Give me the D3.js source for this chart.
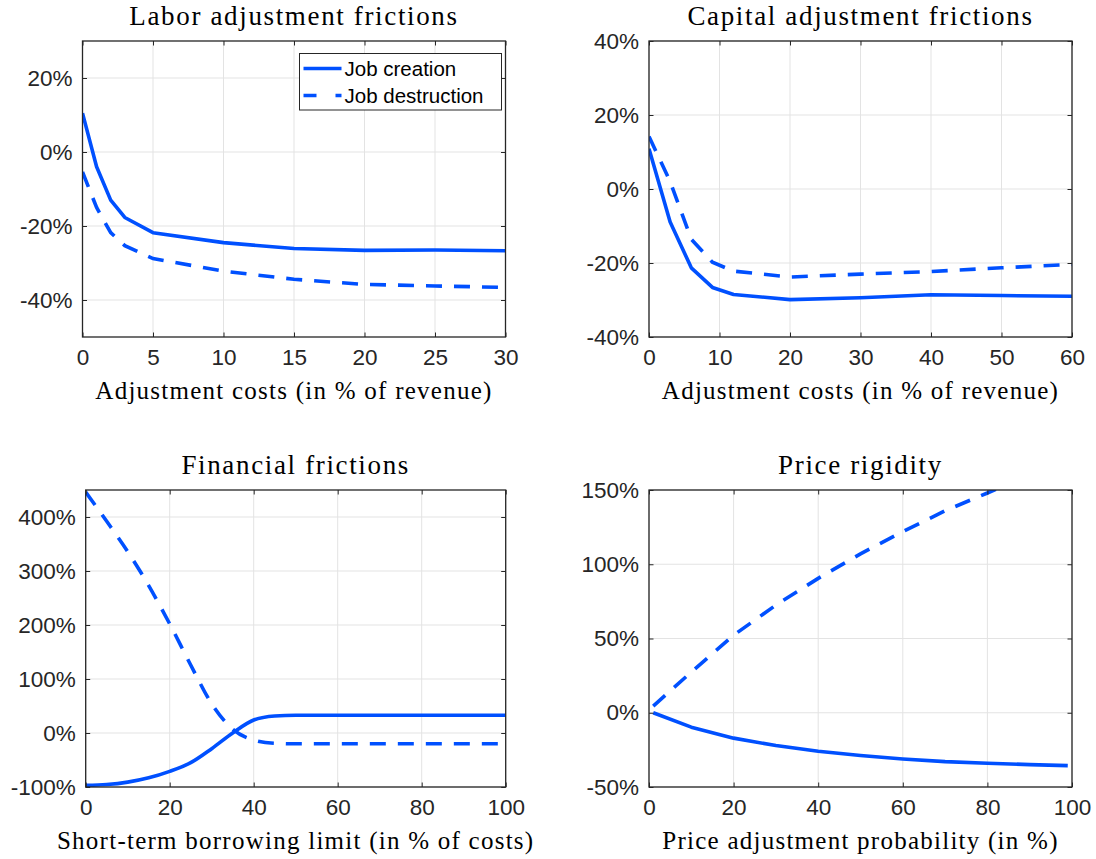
<!DOCTYPE html>
<html>
<head>
<meta charset="utf-8">
<script src="https://cdn.jsdelivr.net/npm/d3@7"></script>
<style>
  html, body { margin: 0; padding: 0; background: #ffffff; }
  svg { display: block; }
</style>
</head>
<body>
<svg id="chart" width="1096" height="859"></svg>
<script>
// ---------------- DATA ----------------
const seriesNames = ["Job creation", "Job destruction"];

// Panel 1: Labor adjustment frictions
const laborX = [0, 1, 2, 3, 5, 10, 15, 20, 25, 30];
const laborCreation = [10.5, -4.0, -13.0, -17.7, -21.8, -24.5, -26.1, -26.6, -26.5, -26.7];
const laborDestruction = [-5.4, -15.0, -21.8, -25.3, -28.8, -32.2, -34.4, -35.8, -36.2, -36.6];
const laborXTicks = [0, 5, 10, 15, 20, 25, 30];
const laborYTicks = [-40, -20, 0, 20];

// Panel 2: Capital adjustment frictions
const capitalX = [0, 3, 6, 9, 12, 20, 30, 40, 50, 60];
const capitalCreation = [10.9, -8.9, -21.3, -26.6, -28.5, -29.9, -29.4, -28.6, -28.8, -29.0];
const capitalDestruction = [14.2, 2.0, -13.6, -19.8, -22.2, -23.8, -23.0, -22.3, -21.3, -20.4];
const capitalXTicks = [0, 10, 20, 30, 40, 50, 60];
const capitalYTicks = [-40, -20, 0, 20, 40];

// Panel 3: Financial frictions
const financialX = [0, 5, 10, 15, 20, 25, 30, 35, 40, 45, 50, 55, 60, 65, 70, 75, 80, 85, 90, 95, 100];
const financialCreation = [-97, -95.5, -91, -83, -71, -55, -29, 0, 24, 31.5, 33, 33, 33, 33, 33, 33, 33, 33, 33, 33, 33];
const financialDestruction = [446, 392, 336, 273, 202, 126, 54, 7, -13, -19, -20, -20, -20, -20, -20, -20, -20, -20, -20, -20, -20];
const financialXTicks = [0, 20, 40, 60, 80, 100];
const financialYTicks = [-100, 0, 100, 200, 300, 400];

// Panel 4: Price rigidity
const priceX = [1, 10, 20, 30, 40, 50, 60, 70, 80, 90, 99];
const priceCreation = [0, -9.7, -17.1, -22.1, -25.9, -28.8, -31.1, -32.9, -34.0, -34.9, -35.6];
const priceDestruction = [4.5, 27.4, 52.2, 72.5, 90.5, 107, 122, 136, 148, 160, 170];
const priceXTicks = [0, 20, 40, 60, 80, 100];
const priceYTicks = [-50, 0, 50, 100, 150];

// ---------------- PANELS ----------------
const panels = [
  { title: "Labor adjustment frictions", xlabel: "Adjustment costs (in % of revenue)",
    x: laborX, s1: laborCreation, s2: laborDestruction, xdom: [0, 30], ydom: [-50, 30],
    xt: laborXTicks, yt: laborYTicks, box: [82.5, 41, 505.5, 337], legend: true, smooth: false },
  { title: "Capital adjustment frictions", xlabel: "Adjustment costs (in % of revenue)",
    x: capitalX, s1: capitalCreation, s2: capitalDestruction, xdom: [0, 60], ydom: [-40, 40],
    xt: capitalXTicks, yt: capitalYTicks, box: [649, 41, 1072, 337], legend: false, smooth: false },
  { title: "Financial frictions", xlabel: "Short-term borrowing limit (in % of costs)",
    x: financialX, s1: financialCreation, s2: financialDestruction, xdom: [0, 100], ydom: [-100, 450],
    xt: financialXTicks, yt: financialYTicks, box: [85.7, 490, 505.7, 787], legend: false, smooth: true },
  { title: "Price rigidity", xlabel: "Price adjustment probability (in %)",
    x: priceX, s1: priceCreation, s2: priceDestruction, xdom: [0, 100], ydom: [-50, 150],
    xt: priceXTicks, yt: priceYTicks, box: [649, 490, 1072, 787], legend: false, smooth: false }
];

const svg = d3.select("#chart");
const BLUE = "#0050ff";
const AXC = "#262626";
const GRID = "#e3e3e3";
const SANS = "'Liberation Sans', Arial, Helvetica, sans-serif";
const SERIF = "'Liberation Serif', 'Times New Roman', serif";
const DASH = "16,12";
const LW = 3.6;

panels.forEach((p, i) => {
  const [x0, y0, x1, y1] = p.box;
  const xs = d3.scaleLinear().domain(p.xdom).range([x0, x1]);
  const ys = d3.scaleLinear().domain(p.ydom).range([y1, y0]);
  const g = svg.append("g");

  // grid
  g.selectAll(".gx").data(p.xt).enter().append("line")
    .attr("x1", d => xs(d)).attr("x2", d => xs(d)).attr("y1", y0).attr("y2", y1)
    .attr("stroke", GRID).attr("stroke-width", 1);
  g.selectAll(".gy").data(p.yt).enter().append("line")
    .attr("y1", d => ys(d)).attr("y2", d => ys(d)).attr("x1", x0).attr("x2", x1)
    .attr("stroke", GRID).attr("stroke-width", 1);

  // clip
  const cid = "clip" + i;
  svg.append("clipPath").attr("id", cid).append("rect")
    .attr("x", x0).attr("y", y0).attr("width", x1 - x0).attr("height", y1 - y0);

  const line = d3.line()
    .x((d, k) => xs(p.x[k])).y(d => ys(d))
    .curve(p.smooth ? d3.curveMonotoneX : d3.curveLinear);

  const lg = g.append("g").attr("clip-path", `url(#${cid})`);
  lg.append("path").datum(p.s1).attr("d", line)
    .attr("fill", "none").attr("stroke", BLUE).attr("stroke-width", LW)
    .attr("stroke-linejoin", "round");
  lg.append("path").datum(p.s2).attr("d", line)
    .attr("fill", "none").attr("stroke", BLUE).attr("stroke-width", LW)
    .attr("stroke-dasharray", DASH);

  // axes (inward ticks on all 4 sides)
  const tl = 4.5;
  const axB = d3.axisBottom(xs).tickValues(p.xt).tickSize(-tl).tickPadding(10).tickFormat(d3.format("d"));
  const axT = d3.axisTop(xs).tickValues(p.xt).tickSize(-tl).tickFormat("");
  const axL = d3.axisLeft(ys).tickValues(p.yt).tickSize(-tl).tickPadding(10).tickFormat(d => d + "%");
  const axR = d3.axisRight(ys).tickValues(p.yt).tickSize(-tl).tickFormat("");

  const styleAxis = sel => {
    sel.select(".domain").remove();
    sel.selectAll(".tick line").attr("stroke", AXC).attr("stroke-width", 1);
    sel.selectAll(".tick text").attr("fill", AXC).style("font-family", SANS).style("font-size", "22.5px");
  };
  g.append("g").attr("transform", `translate(0,${y1})`).call(axB).call(styleAxis)
    .selectAll(".tick text").attr("dy", "0.78em");
  g.append("g").attr("transform", `translate(0,${y0})`).call(axT).call(styleAxis);
  g.append("g").attr("transform", `translate(${x0},0)`).call(axL).call(styleAxis);
  g.append("g").attr("transform", `translate(${x1},0)`).call(axR).call(styleAxis);

  // box
  g.append("rect").attr("x", x0).attr("y", y0).attr("width", x1 - x0).attr("height", y1 - y0)
    .attr("fill", "none").attr("stroke", AXC).attr("stroke-width", 1.3);

  // title
  g.append("text").attr("x", (x0 + x1) / 2).attr("y", y0 - 16)
    .attr("text-anchor", "middle").style("font-family", SERIF).style("font-size", "27px")
    .style("letter-spacing", "1.65px").attr("fill", "#000").text(p.title);

  // x label
  g.append("text").attr("x", (x0 + x1) / 2).attr("y", y1 + 62)
    .attr("text-anchor", "middle").style("font-family", SERIF).style("font-size", "25px")
    .style("letter-spacing", "1.25px").attr("fill", "#000").text(p.xlabel);

  // legend
  if (p.legend) {
    const lx = 299.5, ly = 53.5, lw = 202, lh = 56.5;
    const leg = g.append("g");
    leg.append("rect").attr("x", lx).attr("y", ly).attr("width", lw).attr("height", lh)
      .attr("fill", "#fff").attr("stroke", AXC).attr("stroke-width", 1);
    const rows = [{ name: seriesNames[0], dash: null, y: ly + 15 }, { name: seriesNames[1], dash: "13,19", y: ly + 42 }];
    rows.forEach(r => {
      leg.append("line").attr("x1", lx + 4).attr("x2", lx + 42).attr("y1", r.y).attr("y2", r.y)
        .attr("stroke", BLUE).attr("stroke-width", LW).attr("stroke-dasharray", r.dash);
      leg.append("text").attr("x", lx + 45).attr("y", r.y).attr("dy", "0.36em")
        .style("font-family", SANS).style("font-size", "20.5px").attr("fill", "#000").text(r.name);
    });
  }
});
</script>
</body>
</html>
